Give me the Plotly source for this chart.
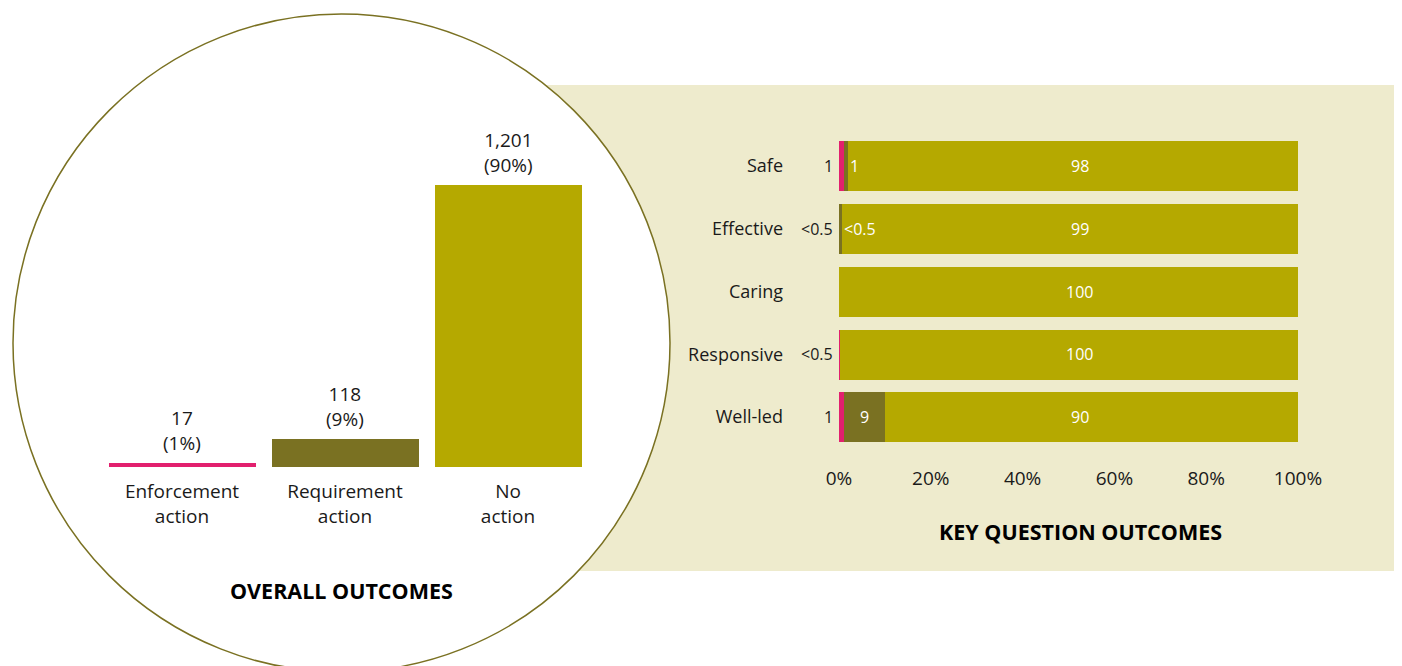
import plotly.graph_objects as go

# ---------------- data ----------------
overall_categories = ["Enforcement<br>action", "Requirement<br>action", "No<br>action"]
overall_counts = [17, 118, 1201]
overall_pct_labels = ["17<br>(1%)", "118<br>(9%)", "1,201<br>(90%)"]

key_questions = ["Safe", "Effective", "Caring", "Responsive", "Well-led"]
enforcement_pct = [1, 0.2, 0, 0.2, 1]
requirement_pct = [1, 0.4, 0, 0, 9]
no_action_pct = [98, 99.4, 100, 99.8, 90]
enforcement_labels = ["1", "<0.5", "", "<0.5", "1"]
requirement_labels = ["1", "<0.5", "", "", "9"]
no_action_labels = ["98", "99", "100", "100", "90"]
x_tick_vals = [0, 20, 40, 60, 80, 100]
x_tick_text = ["0%", "20%", "40%", "60%", "80%", "100%"]

# ---------------- style ----------------
PINK = "#E2206E"
DARK_OLIVE = "#7A7122"
OLIVE = "#B5A900"
BEIGE = "#EEEBCD"
TEXT = "#1a1a1a"
FONT = "Open Sans"
W, H = 1402, 666
OFF = 8  # page body offset


def px(x):
    return (x - OFF) / W


def py(y):
    return (H - (y - OFF)) / H


fig = go.Figure()

# left bar chart
fig.add_trace(go.Bar(
    x=overall_categories, y=overall_counts,
    marker=dict(color=[PINK, DARK_OLIVE, OLIVE], line=dict(width=0)),
    width=0.896, xaxis="x", yaxis="y", showlegend=False, hoverinfo="skip",
))

# right stacked bars
for vals, col in [(enforcement_pct, PINK), (requirement_pct, DARK_OLIVE), (no_action_pct, OLIVE)]:
    fig.add_trace(go.Bar(
        y=key_questions, x=vals, orientation="h",
        marker=dict(color=col, line=dict(width=0)),
        width=0.797, xaxis="x2", yaxis="y2", showlegend=False, hoverinfo="skip",
    ))

annotations = []
# value labels on left chart
for cat, v, lab in zip(overall_categories, overall_counts, overall_pct_labels):
    annotations.append(dict(
        x=cat, y=v, xref="x", yref="y", text=lab, showarrow=False,
        yanchor="bottom", yshift=5, font=dict(family=FONT, size=19, color=TEXT),
    ))

# labels on right chart
for i, q in enumerate(key_questions):
    if enforcement_labels[i]:
        annotations.append(dict(
            x=0, y=q, xref="x2", yref="y2", text=enforcement_labels[i], showarrow=False,
            xanchor="right", xshift=-4, font=dict(family=FONT, size=16, color=TEXT),
        ))
    if requirement_labels[i]:
        end = enforcement_pct[i] + requirement_pct[i]
        if requirement_pct[i] >= 5:
            annotations.append(dict(
                x=enforcement_pct[i] + requirement_pct[i] / 2, y=q, xref="x2", yref="y2",
                text=requirement_labels[i], showarrow=False,
                font=dict(family=FONT, size=16, color="white"),
            ))
        else:
            annotations.append(dict(
                x=end, y=q, xref="x2", yref="y2", text=requirement_labels[i], showarrow=False,
                xanchor="left", xshift=0, font=dict(family=FONT, size=16, color="white"),
            ))
    annotations.append(dict(
        x=52.5, y=q, xref="x2", yref="y2", text=no_action_labels[i], showarrow=False,
        xanchor="center", font=dict(family=FONT, size=16, color="white"),
    ))

# titles
annotations.append(dict(
    x=px(341), y=py(590), xref="paper", yref="paper", text="<b>OVERALL OUTCOMES</b>",
    xanchor="center", yanchor="middle",
    showarrow=False, font=dict(family=FONT, size=21.5, color="black"),
))
annotations.append(dict(
    x=px(1080), y=py(531), xref="paper", yref="paper", text="<b>KEY QUESTION OUTCOMES</b>",
    xanchor="center", yanchor="middle",
    showarrow=False, font=dict(family=FONT, size=21.5, color="black"),
))

shapes = [
    dict(type="rect", xref="paper", yref="paper", x0=px(300), x1=px(1420), y0=py(571), y1=py(85),
         fillcolor=BEIGE, line=dict(width=0), layer="below"),
    dict(type="circle", xref="paper", yref="paper", x0=px(13), x1=px(670), y0=py(672), y1=py(14),
         fillcolor="white", line=dict(color=DARK_OLIVE, width=1.5), layer="below"),
]

fig.update_layout(
    width=W, height=H, margin=dict(l=0, r=0, t=0, b=0, autoexpand=False),
    paper_bgcolor="white", plot_bgcolor="rgba(0,0,0,0)",
    barmode="stack", bargap=0,
    font=dict(family=FONT, color=TEXT),
    xaxis=dict(domain=[px(100.5), px(589.5)], range=[-0.5, 2.5], showgrid=False, zeroline=False,
               showline=False, ticks="", tickfont=dict(size=19, color=TEXT), anchor="y",
               automargin=False, ticklabelstandoff=11),
    yaxis=dict(domain=[py(467), py(100)], range=[0, 1563], visible=False, anchor="x",
               automargin=False),
    xaxis2=dict(domain=[px(839), px(1298)], range=[0, 100], tickvals=x_tick_vals, ticktext=x_tick_text,
                showgrid=False, zeroline=False, showline=False, ticks="", ticklabelstandoff=17,
                tickfont=dict(size=19, color=TEXT), anchor="y2", automargin=False),
    yaxis2=dict(domain=[py(448.4), py(134.6)], range=[4.5, -0.5], categoryorder="array",
                categoryarray=key_questions, showgrid=False, zeroline=False, showline=False,
                ticks="", ticklabelstandoff=55, tickfont=dict(size=18, color=TEXT), anchor="x2",
                automargin=False),
    annotations=annotations, shapes=shapes,
)

fig.write_html("out.html")
